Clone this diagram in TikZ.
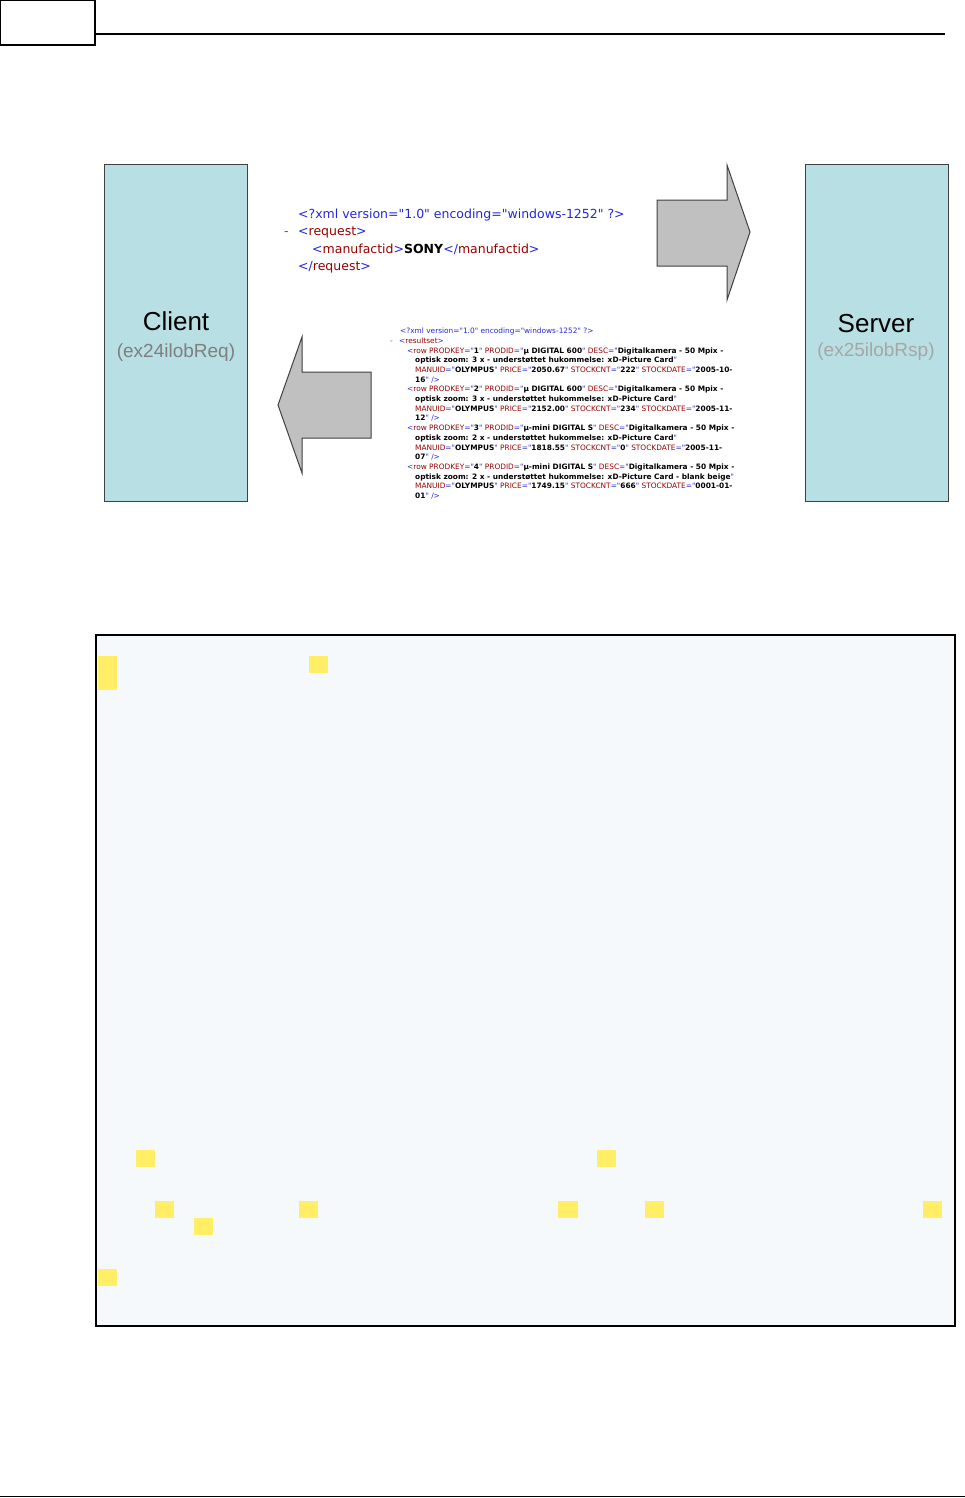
\documentclass[tikz,border=0pt]{standalone}
\usepackage{fontspec}
\setmainfont{Liberation Sans}
\newfontfamily\xmlfont{DejaVu Sans}
\definecolor{hostfill}{HTML}{B8DFE3}
\definecolor{hostdraw}{HTML}{404040}
\definecolor{arrfill}{HTML}{C0C0C0}
\definecolor{panelfill}{HTML}{F5F9FC}
\definecolor{yel}{HTML}{FFEE66}
\definecolor{xblue}{HTML}{2626D9}
\definecolor{xred}{HTML}{990000}
\definecolor{xdash}{HTML}{E02020}
\definecolor{subgrayA}{HTML}{7F7F7F}
\definecolor{subgrayB}{HTML}{A6A6A6}
\newcommand{\xmlB}[1]{\textcolor{xblue}{#1}}
\newcommand{\xmlR}[1]{\textcolor{xred}{#1}}
\newcommand{\xmlAt}[2]{\xmlR{#1}\xmlB{="}\textbf{#2}\xmlB{"}}
\begin{document}
\begin{tikzpicture}[x=1pt,y=-1pt,
  hostbox/.style={draw=hostdraw, fill=hostfill, line width=1pt},
  arrowshape/.style={draw=hostdraw, fill=arrfill, line width=1pt, line join=miter},
  titletext/.style={font=\fontsize{26}{30}\selectfont, anchor=base, inner sep=0pt},
  subtext/.style={font=\fontsize{19}{22}\selectfont, anchor=base, inner sep=0pt},
  xreq/.style={anchor=base west, inner sep=0pt, font=\xmlfont\fontsize{12.5}{15}\selectfont},
  xres/.style={anchor=base west, inner sep=0pt, font=\xmlfont\fontsize{7.4}{9}\selectfont},
  ybox/.style={fill=yel},
]
\useasboundingbox (0,0) rectangle (965,1498);

% header and footer rules
\draw[line width=1.2pt] (0.6,0.6) rectangle (95,45);
\draw[line width=1.2pt] (95,34) -- (945,34);
\draw[line width=1.4pt] (0,1496.5) -- (965,1496.5);

% client and server boxes
\draw[hostbox] (104,165) rectangle (247,501);
\draw[hostbox] (805,165) rectangle (948,501);
\node[titletext] (clientT) at (176,330) {Client};
\node[subtext, text=subgrayA] (clientS) at (176,357) {(ex24ilobReq)};
\node[titletext] (serverT) at (876,332) {Server};
\node[subtext, text=subgrayB] (serverS) at (876,356) {(ex25ilobRsp)};

% block arrows
\draw[arrowshape] (657,200) -- (727,200) -- (727,165) -- (750,232) -- (727,300) -- (727,266) -- (657,266) -- cycle;
\draw[arrowshape] (371,372) -- (302,372) -- (302,337) -- (278,405) -- (302,473) -- (302,438) -- (371,438) -- cycle;

% request xml
\node[xreq] (q1) at (298,218.4) {\xmlB{<?xml version="1.0" encoding="windows-1252" ?>}};
\node[xreq, text=xdash] (q2d) at (284,235.7) {-};
\node[xreq] (q2) at (298,235.7) {\xmlB{<}\xmlR{request}\xmlB{>}};
\node[xreq] (q3) at (312,253) {\xmlB{<}\xmlR{manufactid}\xmlB{>}\textbf{SONY}\xmlB{</}\xmlR{manufactid}\xmlB{>}};
\node[xreq] (q4) at (298,270.3) {\xmlB{</}\xmlR{request}\xmlB{>}};

% response xml
\node[xres] (r1) at (400,333.6) {\xmlB{<?xml version="1.0" encoding="windows-1252" ?>}};
\node[xres, text=xdash] (r2d) at (390,343.3) {-};
\node[xres] (r2) at (399,343.3) {\xmlB{<}\xmlR{resultset}\xmlB{>}};
\node[xres] (r3) at (407,353.0) {\xmlB{<}\xmlR{row} \xmlAt{PRODKEY}{1} \xmlAt{PRODID}{µ DIGITAL 600} \xmlR{DESC}\xmlB{="}\textbf{Digitalkamera - 50 Mpix -}};
\node[xres] (r4) at (415,362.7) {\textbf{optisk zoom: 3 x - understøttet hukommelse: xD-Picture Card}\xmlB{"}};
\node[xres] (r5) at (415,372.4) {\xmlAt{MANUID}{OLYMPUS} \xmlAt{PRICE}{2050.67} \xmlAt{STOCKCNT}{222} \xmlR{STOCKDATE}\xmlB{="}\textbf{2005-10-}};
\node[xres] (r6) at (415,382.1) {\textbf{16}\xmlB{" />}};
\node[xres] (r7) at (407,391.8) {\xmlB{<}\xmlR{row} \xmlAt{PRODKEY}{2} \xmlAt{PRODID}{µ DIGITAL 600} \xmlR{DESC}\xmlB{="}\textbf{Digitalkamera - 50 Mpix -}};
\node[xres] (r8) at (415,401.5) {\textbf{optisk zoom: 3 x - understøttet hukommelse: xD-Picture Card}\xmlB{"}};
\node[xres] (r9) at (415,411.2) {\xmlAt{MANUID}{OLYMPUS} \xmlAt{PRICE}{2152.00} \xmlAt{STOCKCNT}{234} \xmlR{STOCKDATE}\xmlB{="}\textbf{2005-11-}};
\node[xres] (r10) at (415,420.9) {\textbf{12}\xmlB{" />}};
\node[xres] (r11) at (407,430.6) {\xmlB{<}\xmlR{row} \xmlAt{PRODKEY}{3} \xmlAt{PRODID}{µ-mini DIGITAL S} \xmlR{DESC}\xmlB{="}\textbf{Digitalkamera - 50 Mpix -}};
\node[xres] (r12) at (415,440.3) {\textbf{optisk zoom: 2 x - understøttet hukommelse: xD-Picture Card}\xmlB{"}};
\node[xres] (r13) at (415,450.0) {\xmlAt{MANUID}{OLYMPUS} \xmlAt{PRICE}{1818.55} \xmlAt{STOCKCNT}{0} \xmlR{STOCKDATE}\xmlB{="}\textbf{2005-11-}};
\node[xres] (r14) at (415,459.7) {\textbf{07}\xmlB{" />}};
\node[xres] (r15) at (407,469.4) {\xmlB{<}\xmlR{row} \xmlAt{PRODKEY}{4} \xmlAt{PRODID}{µ-mini DIGITAL S} \xmlR{DESC}\xmlB{="}\textbf{Digitalkamera - 50 Mpix -}};
\node[xres] (r16) at (415,479.1) {\textbf{optisk zoom: 2 x - understøttet hukommelse: xD-Picture Card - blank beige}\xmlB{"}};
\node[xres] (r17) at (415,488.8) {\xmlAt{MANUID}{OLYMPUS} \xmlAt{PRICE}{1749.15} \xmlAt{STOCKCNT}{666} \xmlR{STOCKDATE}\xmlB{="}\textbf{0001-01-}};
\node[xres] (r18) at (415,498.5) {\textbf{01}\xmlB{" />}};

% lower panel
\draw[fill=panelfill, line width=1.8pt] (96,635) rectangle (955,1326);
\fill[ybox] (98,656) rectangle (117,690);
\fill[ybox] (309,656) rectangle (328,673);
\fill[ybox] (136,1150) rectangle (155,1167);
\fill[ybox] (597,1150) rectangle (616,1167);
\fill[ybox] (155,1201) rectangle (174,1218);
\fill[ybox] (299,1201) rectangle (318,1218);
\fill[ybox] (558,1201) rectangle (578,1218);
\fill[ybox] (645,1201) rectangle (664,1218);
\fill[ybox] (923,1201) rectangle (942,1218);
\fill[ybox] (194,1218) rectangle (213,1235);
\fill[ybox] (98,1269) rectangle (117,1286);
\end{tikzpicture}
\end{document}
